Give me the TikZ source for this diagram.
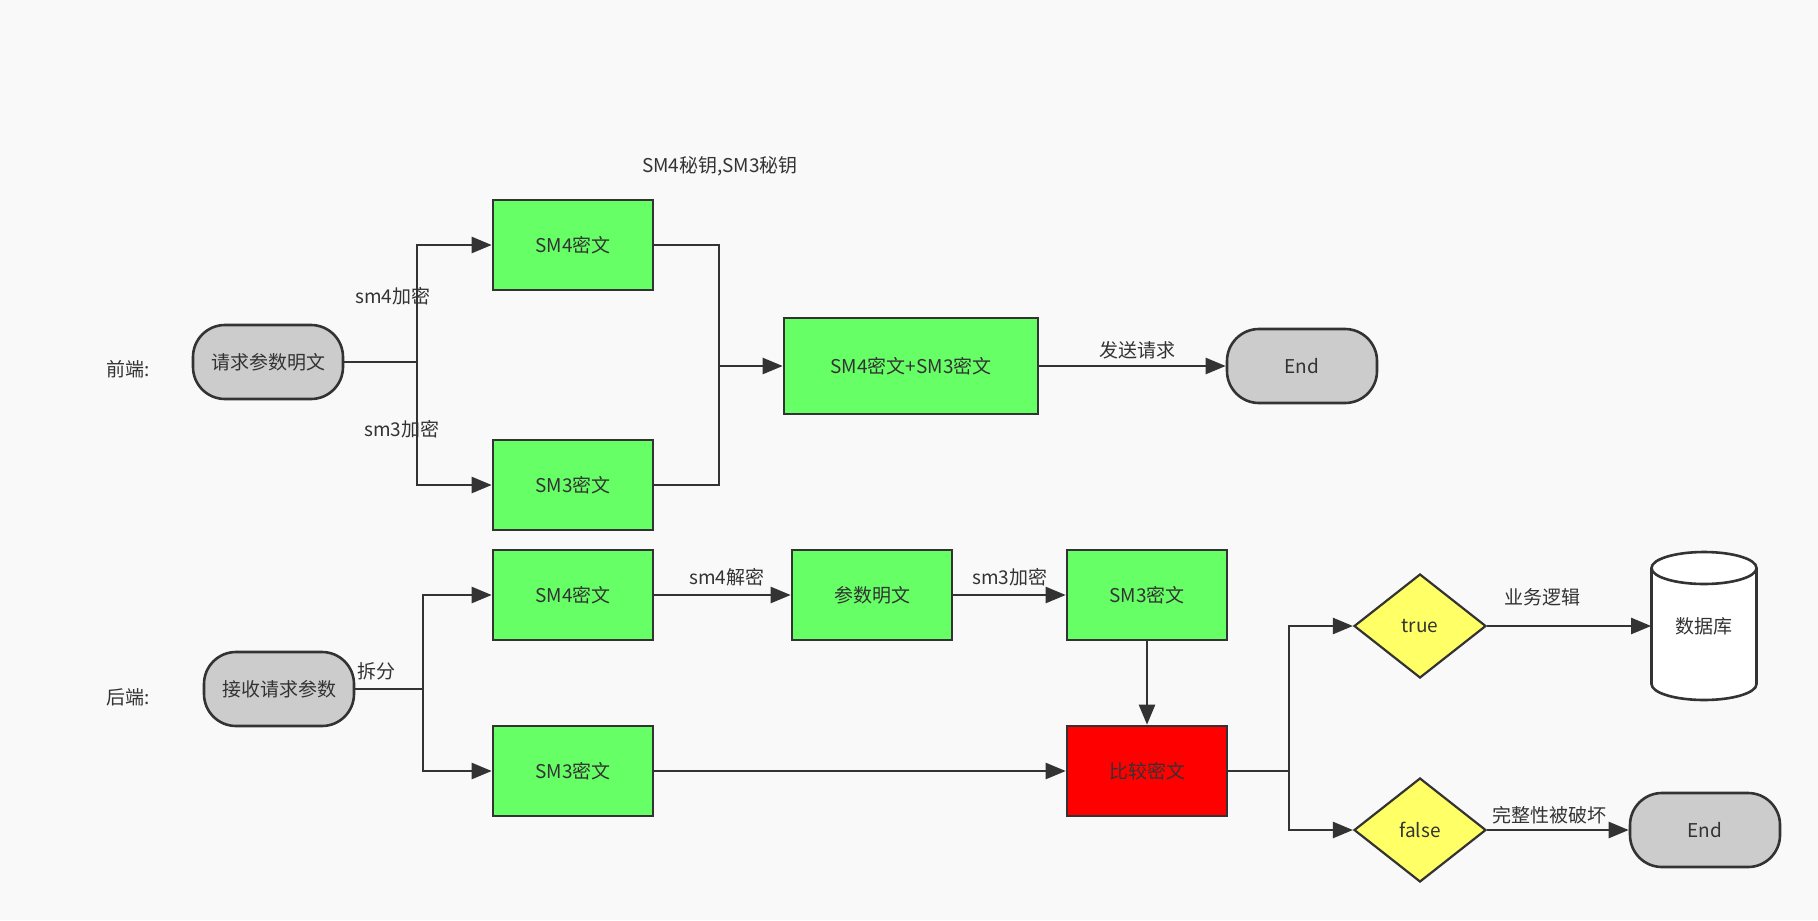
\documentclass[tikz,border=0pt]{standalone}
\usepackage{fontspec}
\setmainfont{Noto Sans CJK SC}
\usepackage{tikz}
\usetikzlibrary{arrows.meta,shapes.geometric}
\definecolor{bgcol}{HTML}{F9F9F9}
\definecolor{linecol}{HTML}{333333}
\definecolor{txtcol}{HTML}{333333}
\definecolor{termcol}{HTML}{CCCCCC}
\definecolor{proccol}{HTML}{66FF66}
\definecolor{cmpcol}{HTML}{FF0000}
\definecolor{deccol}{HTML}{FFFF66}

\begin{document}
\begin{tikzpicture}[x=0.5pt,y=-0.5pt,>={Triangle[length=10pt,width=8pt]}]
\tikzstyle{every node}=[font=\fontsize{9.5}{11}\selectfont,text=txtcol]
\tikzstyle{term}=[draw=linecol,line width=1.3pt,fill=termcol,rounded corners=16pt,minimum width=75pt,minimum height=37pt]
\tikzstyle{proc}=[draw=linecol,line width=1.3pt,fill=proccol,minimum width=80pt,minimum height=45pt]
\tikzstyle{dec}=[diamond,draw=linecol,line width=1.1pt,fill=deccol,inner sep=0pt,minimum width=66pt,minimum height=52pt]
\tikzstyle{conn}=[draw=linecol,line width=1.2pt]
\fill[bgcol] (0,0) rectangle (1818,920);
\useasboundingbox (0,0) rectangle (1818,920);

% front end
\node (fe) at (128,369) {前端:};
\node[term] (req) at (268,362) {请求参数明文};
\node[proc] (sm4a) at (573,245) {SM4密文};
\node[proc] (sm3a) at (573,485) {SM3密文};
\node[proc,minimum width=127pt,minimum height=48pt] (combo) at (911,366) {SM4密文+SM3密文};
\node[term] (endA) at (1302,366) {End};
\node (keys) at (720,166) {SM4秘钥,SM3秘钥};
\node (enc4) at (393,296) {sm4加密};
\node (enc3) at (402,429) {sm3加密};
\node (send) at (1137,350) {发送请求};
\coordinate (s1) at (417,362);
\coordinate (m1) at (719,366);
\draw[conn] (req.east) -- (s1);
\draw[conn,->] (s1) |- (sm4a.west);
\draw[conn,->] (s1) |- (sm3a.west);
\draw[conn] (sm4a.east) -| (m1);
\draw[conn] (sm3a.east) -| (m1);
\draw[conn,->] (m1) -- (combo.west);
\draw[conn,->] (combo.east) -- (endA.west);

% back end
\node (be) at (128,697) {后端:};
\node[term] (recv) at (279,689) {接收请求参数};
\node[proc] (sm4b) at (573,595) {SM4密文};
\node[proc] (sm3b) at (573,771) {SM3密文};
\node[proc] (plain) at (872,595) {参数明文};
\node[proc] (sm3c) at (1147,595) {SM3密文};
\node[proc,fill=cmpcol] (cmp) at (1147,771) {比较密文};
\node[dec] (yes) at (1420,626) {true};
\node[dec] (no) at (1420,830) {false};
\node[term] (endB) at (1705,830) {End};
\node (split) at (376,671) {拆分};
\node (dec4) at (727,577) {sm4解密};
\node (enc3b) at (1010,577) {sm3加密};
\node (biz) at (1542,597) {业务逻辑};
\node (broken) at (1549,815) {完整性被破坏};
% database
\filldraw[draw=linecol,line width=1.3pt,fill=white] (1651.5,568) -- (1651.5,684)
  arc[start angle=180,end angle=360,x radius=26.25pt,y radius=8pt] -- (1756.5,568)
  arc[start angle=0,end angle=180,x radius=26.25pt,y radius=8pt] -- cycle;
\draw[linecol,line width=1.3pt] (1651.5,568) arc[start angle=180,end angle=360,x radius=26.25pt,y radius=8pt];
\node[minimum width=52.5pt,minimum height=74pt] (db) at (1704,626) {数据库};
\coordinate (s2) at (423,689);
\coordinate (s3) at (1289,771);
\draw[conn] (recv.east) -- (s2);
\draw[conn,->] (s2) |- (sm4b.west);
\draw[conn,->] (s2) |- (sm3b.west);
\draw[conn,->] (sm4b.east) -- (plain.west);
\draw[conn,->] (plain.east) -- (sm3c.west);
\draw[conn,->] (sm3c.south) -- (cmp.north);
\draw[conn,->] (sm3b.east) -- (cmp.west);
\draw[conn] (cmp.east) -- (s3);
\draw[conn,->] (s3) |- (yes.west);
\draw[conn,->] (s3) |- (no.west);
\draw[conn,->] (yes.east) -- (db.west);
\draw[conn,->] (no.east) -- (endB.west);
\end{tikzpicture}
\end{document}
